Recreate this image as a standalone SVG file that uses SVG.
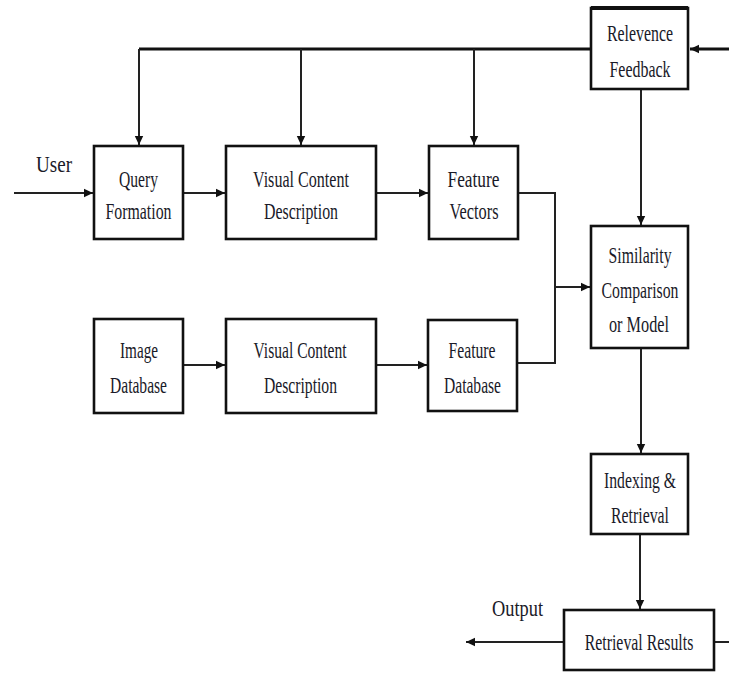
<svg xmlns="http://www.w3.org/2000/svg" width="729" height="673" viewBox="0 0 729 673">
<defs>
<style>
.box{fill:#fff;stroke:#111;stroke-width:2.6}
.ln{fill:none;stroke:#222;stroke-width:2}
.bus{fill:none;stroke:#111;stroke-width:3}
text{font-family:"Liberation Serif","Times New Roman",serif;font-size:24px;fill:#1a1a28;text-anchor:middle}
</style>
<marker id="ah" markerUnits="userSpaceOnUse" markerWidth="10" markerHeight="10" refX="9" refY="5" orient="auto">
<path d="M0,0.8 L9,5 L0,9.2 Z" fill="#111"/>
</marker>
</defs>
<rect width="729" height="673" fill="#fff"/>
<g id="connectors">
<path class="bus" d="M139 49 H591"/>
<path class="ln" d="M139 49 V145" marker-end="url(#ah)"/>
<path class="ln" d="M301 49 V145" marker-end="url(#ah)"/>
<path class="ln" d="M474 49 V145" marker-end="url(#ah)"/>
<path class="bus" d="M729 49 H690" marker-end="url(#ah)"/>
<path class="ln" d="M641 89 V225" marker-end="url(#ah)"/>
<path class="ln" d="M14 193 H93" marker-end="url(#ah)"/>
<path class="ln" d="M183 193 H225" marker-end="url(#ah)"/>
<path class="ln" d="M376 193 H428" marker-end="url(#ah)"/>
<path class="ln" d="M518 193 H555 V363 H517"/>
<path class="ln" d="M555 287 H590" marker-end="url(#ah)"/>
<path class="ln" d="M183 365 H225" marker-end="url(#ah)"/>
<path class="ln" d="M376 365 H427" marker-end="url(#ah)"/>
<path class="ln" d="M641 348 V453" marker-end="url(#ah)"/>
<path class="ln" d="M640 534 V609" marker-end="url(#ah)"/>
<path class="ln" d="M714 642 H729"/>
<path class="ln" d="M564 642 H466" marker-end="url(#ah)"/>
</g>
<g id="relevance-feedback">
<rect class="box" x="591" y="8" width="97" height="81"/>
<path d="M591 8 H688" stroke="#111" stroke-width="4"/>
<text x="640" y="41" textLength="66" lengthAdjust="spacingAndGlyphs">Relevence</text>
<text x="640" y="77" textLength="61" lengthAdjust="spacingAndGlyphs">Feedback</text>
</g>
<g id="user-label"><text x="54" y="172" textLength="36" lengthAdjust="spacingAndGlyphs">User</text></g>
<g id="query-formation">
<rect class="box" x="94" y="146" width="89" height="93"/>
<text x="138.5" y="187" textLength="39" lengthAdjust="spacingAndGlyphs">Query</text>
<text x="138.5" y="219" textLength="66" lengthAdjust="spacingAndGlyphs">Formation</text>
</g>
<g id="vcd-query">
<rect class="box" x="226" y="146" width="150" height="93"/>
<text x="301" y="187" textLength="96" lengthAdjust="spacingAndGlyphs">Visual Content</text>
<text x="301" y="219" textLength="74" lengthAdjust="spacingAndGlyphs">Description</text>
</g>
<g id="feature-vectors">
<rect class="box" x="429" y="146" width="89" height="93"/>
<text x="473.5" y="187" textLength="52" lengthAdjust="spacingAndGlyphs">Feature</text>
<text x="474" y="219" textLength="49" lengthAdjust="spacingAndGlyphs">Vectors</text>
</g>
<g id="similarity">
<rect class="box" x="591" y="226" width="97" height="122"/>
<text x="640" y="263" textLength="63" lengthAdjust="spacingAndGlyphs">Similarity</text>
<text x="640" y="298" textLength="77" lengthAdjust="spacingAndGlyphs">Comparison</text>
<text x="639" y="332" textLength="60" lengthAdjust="spacingAndGlyphs">or Model</text>
</g>
<g id="image-database">
<rect class="box" x="94" y="319" width="89" height="94"/>
<text x="139" y="358" textLength="38" lengthAdjust="spacingAndGlyphs">Image</text>
<text x="138.5" y="393" textLength="57" lengthAdjust="spacingAndGlyphs">Database</text>
</g>
<g id="vcd-database">
<rect class="box" x="226" y="319" width="150" height="94"/>
<text x="300" y="358" textLength="93" lengthAdjust="spacingAndGlyphs">Visual Content</text>
<text x="300.5" y="393" textLength="73" lengthAdjust="spacingAndGlyphs">Description</text>
</g>
<g id="feature-database">
<rect class="box" x="428" y="320" width="89" height="91"/>
<text x="472" y="358" textLength="47" lengthAdjust="spacingAndGlyphs">Feature</text>
<text x="472.5" y="393" textLength="57" lengthAdjust="spacingAndGlyphs">Database</text>
</g>
<g id="indexing-retrieval">
<rect class="box" x="591" y="454" width="97" height="80"/>
<text x="640" y="488" textLength="72" lengthAdjust="spacingAndGlyphs">Indexing &amp;</text>
<text x="640" y="523" textLength="58" lengthAdjust="spacingAndGlyphs">Retrieval</text>
</g>
<g id="output-label"><text x="517.5" y="616" textLength="51" lengthAdjust="spacingAndGlyphs">Output</text></g>
<g id="retrieval-results">
<rect class="box" x="564" y="610" width="150" height="60"/>
<text transform="translate(639 650) scale(0.66 1)" x="0" y="0">Retrieval Results</text>
</g>
</svg>
